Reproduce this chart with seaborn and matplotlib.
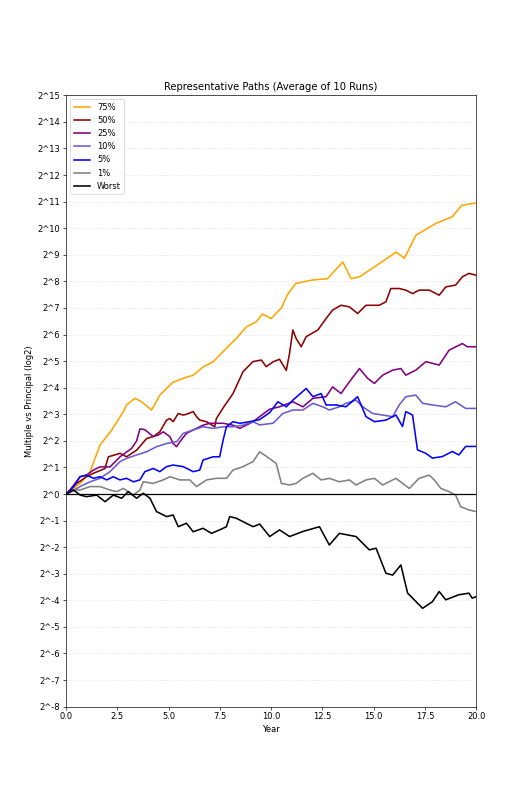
"""
Representative paths chart: multiple vs principal on a log2 scale.
"""
import numpy as np
import matplotlib
matplotlib.use('Agg')
import matplotlib.pyplot as plt
from matplotlib.ticker import FixedLocator, FuncFormatter, NullLocator
import seaborn as sns

# Path values (year, log2 of multiple)
orange_years = [0, 0.35, 0.68, 1.17, 1.65, 2.22, 2.79, 2.95, 3.36, 3.68, 4.17, 4.57, 5.2, 5.7,
                6.2, 6.7, 7.17, 7.65, 8.3, 8.8, 9.28, 9.57, 10.0, 10.5, 10.8, 11.2, 12.0, 12.75,
                13.5, 13.9, 14.3, 14.8, 15.3, 16.1, 16.5, 17.07, 18.04, 18.84, 19.3, 20.0]
orange_log2 = [0, 0.2, 0.4, 0.84, 1.84, 2.4, 3.1, 3.35, 3.6, 3.47, 3.16, 3.72, 4.2, 4.35,
               4.47, 4.79, 4.97, 5.35, 5.85, 6.29, 6.48, 6.77, 6.6, 7.0, 7.5, 7.92, 8.05, 8.1,
               8.73, 8.1, 8.17, 8.42, 8.68, 9.1, 8.87, 9.74, 10.18, 10.43, 10.86, 10.95]

darkred_years = [0, 0.52, 1.0, 1.33, 1.9, 2.06, 2.63, 2.95, 3.44, 3.93, 4.25, 4.57, 4.90, 5.06,
                 5.22, 5.47, 5.71, 5.87, 6.20, 6.36, 6.52, 6.85, 7.25, 7.33, 7.66, 8.14, 8.63,
                 9.11, 9.52, 9.76, 10.09, 10.41, 10.74, 10.90, 11.06, 11.22, 11.47, 11.71, 12.28,
                 12.68, 13.0, 13.41, 13.82, 14.22, 14.63, 15.27, 15.6, 15.84, 16.25, 16.57, 16.9,
                 17.22, 17.71, 18.2, 18.52, 19.0, 19.33, 19.65, 20.0]
darkred_log2 = [0, 0.4, 0.65, 0.78, 0.96, 1.4, 1.53, 1.40, 1.65, 2.09, 2.16, 2.34, 2.78, 2.84,
                2.72, 3.03, 2.97, 3.0, 3.10, 2.91, 2.78, 2.72, 2.53, 2.84, 3.24, 3.78, 4.60,
                4.98, 5.04, 4.79, 4.97, 5.07, 4.65, 5.29, 6.17, 5.85, 5.54, 5.92, 6.17,
                6.60, 6.92, 7.10, 7.04, 6.79, 7.10, 7.10, 7.23, 7.73, 7.73, 7.67, 7.54,
                7.67, 7.67, 7.48, 7.79, 7.86, 8.17, 8.30, 8.23]

purple_years = [0, 0.19, 0.68, 1.0, 1.33, 1.65, 2.14, 2.63, 3.2, 3.44, 3.60, 3.84, 4.25, 4.50,
                4.74, 5.06, 5.22, 5.39, 5.55, 5.87, 6.36, 6.68, 7.01, 7.66, 8.14, 8.47, 8.79,
                9.12, 9.44, 9.93, 10.41, 11.06, 11.55, 12.04, 12.68, 13.0, 13.41, 13.82, 14.31,
                14.71, 15.04, 15.44, 15.93, 16.33, 16.57, 17.06, 17.55, 18.2, 18.68, 19.33,
                19.57, 20.0]
purple_log2 = [0, 0.15, 0.65, 0.71, 0.90, 1.02, 1.02, 1.40, 1.72, 2.0, 2.45, 2.42, 2.16, 2.22,
               2.34, 2.16, 1.90, 1.78, 1.97, 2.28, 2.47, 2.59, 2.66, 2.66, 2.59, 2.47, 2.59,
               2.72, 2.91, 3.19, 3.28, 3.47, 3.28, 3.60, 3.66, 4.03, 3.78, 4.22, 4.72,
               4.35, 4.16, 4.47, 4.66, 4.72, 4.47, 4.66, 4.98, 4.85, 5.41, 5.66,
               5.54, 5.54]

slate_years = [0, 0.3, 0.68, 1.17, 1.65, 2.14, 2.63, 2.95, 3.44, 3.93, 4.41, 4.90, 5.39, 5.71,
               6.2, 6.68, 7.17, 7.66, 8.14, 8.63, 9.12, 9.44, 10.09, 10.57, 11.06, 11.55, 12.04,
               12.52, 12.84, 13.33, 13.65, 14.14, 14.47, 14.95, 15.44, 15.93, 16.25, 16.57,
               17.06, 17.39, 17.87, 18.52, 19.0, 19.49, 20.0]
slate_log2 = [0, 0.1, 0.28, 0.46, 0.59, 0.84, 1.22, 1.34, 1.47, 1.59, 1.78, 1.90, 1.97, 2.28,
              2.41, 2.53, 2.47, 2.53, 2.53, 2.59, 2.72, 2.6, 2.66, 3.03, 3.16, 3.16, 3.41,
              3.28, 3.16, 3.28, 3.41, 3.53, 3.28, 3.03, 2.97, 2.91, 3.35, 3.66,
              3.72, 3.41, 3.35, 3.28, 3.47, 3.22, 3.22]

blue_years = [0, 0.36, 0.68, 1.0, 1.33, 1.65, 1.98, 2.30, 2.63, 2.95, 3.28, 3.60, 3.84, 4.25,
              4.57, 4.90, 5.22, 5.71, 6.2, 6.52, 6.68, 7.17, 7.49, 7.66, 7.82, 8.14, 8.47,
              8.95, 9.44, 9.93, 10.33, 10.74, 11.06, 11.71, 12.04, 12.44, 12.68, 13.17, 13.65,
              14.22, 14.63, 15.04, 15.6, 16.09, 16.41, 16.57, 16.90, 17.14, 17.55, 17.87,
              18.36, 18.84, 19.16, 19.49, 20.0]
blue_log2 = [0, 0.28, 0.65, 0.71, 0.59, 0.65, 0.53, 0.65, 0.53, 0.59, 0.46, 0.53, 0.84, 0.96,
             0.84, 1.03, 1.09, 1.03, 0.84, 0.90, 1.28, 1.40, 1.40, 2.03, 2.53, 2.72, 2.66,
             2.72, 2.8, 3.06, 3.47, 3.28, 3.53, 3.97, 3.66, 3.78, 3.35, 3.35, 3.28,
             3.66, 2.91, 2.72, 2.78, 2.97, 2.54, 3.10, 2.97, 1.66, 1.53, 1.35,
             1.41, 1.60, 1.47, 1.79, 1.79]

gray_years = [0, 0.36, 0.68, 1.17, 1.65, 2.14, 2.47, 2.79, 3.28, 3.60, 3.76, 4.25, 4.74, 5.06,
              5.55, 6.03, 6.36, 6.85, 7.33, 7.82, 8.14, 8.63, 9.12, 9.44, 9.93, 10.25, 10.5,
              10.90, 11.22, 11.55, 12.04, 12.44, 12.84, 13.33, 13.82, 14.14, 14.63, 15.04,
              15.44, 16.09, 16.74, 17.22, 17.71, 17.96, 18.28, 18.68, 19.0, 19.25, 19.65, 20.0]
gray_log2 = [0, 0.15, 0.15, 0.28, 0.28, 0.15, 0.09, 0.21, -0.04, 0.15, 0.46, 0.40, 0.53, 0.65,
             0.53, 0.53, 0.28, 0.53, 0.59, 0.59, 0.90, 1.03, 1.22, 1.59, 1.33, 1.15, 0.40,
             0.34, 0.40, 0.59, 0.78, 0.53, 0.59, 0.46, 0.53, 0.34, 0.53, 0.59,
             0.34, 0.59, 0.21, 0.59, 0.71, 0.53, 0.21, 0.09, -0.04, -0.48, -0.60, -0.66]

worst_years = [0, 0.36, 0.68, 1.0, 1.49, 1.90, 2.30, 2.71, 3.03, 3.44, 3.76, 4.09, 4.41, 4.90,
               5.22, 5.47, 5.87, 6.2, 6.68, 7.09, 7.49, 7.82, 7.98, 8.30, 8.63, 9.12, 9.44,
               9.93, 10.41, 10.90, 11.55, 12.36, 12.84, 13.33, 14.14, 14.79, 15.12, 15.6,
               15.93, 16.33, 16.66, 17.39, 17.87, 18.2, 18.52, 19.16, 19.65, 19.81, 20.0]
worst_log2 = [0, 0.15, -0.04, -0.10, -0.04, -0.29, -0.04, -0.16, 0.09, -0.16, 0.03, -0.16,
              -0.66, -0.85, -0.79, -1.23, -1.10, -1.42, -1.29, -1.48, -1.35, -1.23, -0.85,
              -0.91, -1.04, -1.23, -1.13, -1.6, -1.35, -1.60, -1.41, -1.23, -1.92, -1.48,
              -1.60, -2.10, -2.04, -2.98, -3.05, -2.67, -3.73, -4.30, -4.05, -3.67, -3.98,
              -3.79, -3.73, -3.92, -3.86]

labels = ['75%', '50%', '25%', '10%', '5%', '1%', 'Worst']
colors = ['orange', 'darkred', 'purple', 'slateblue', 'blue', 'gray', 'black']
series = [
    (orange_years, orange_log2),
    (darkred_years, darkred_log2),
    (purple_years, purple_log2),
    (slate_years, slate_log2),
    (blue_years, blue_log2),
    (gray_years, gray_log2),
    (worst_years, worst_log2),
]

y_exponents = list(range(-8, 16))

fig, ax = plt.subplots(figsize=(529 / 60, 794 / 60), dpi=60)

for (years, exps), label, color in zip(series, labels, colors):
    sns.lineplot(x=years, y=np.power(2.0, exps), color=color, label=label,
                 linewidth=1.9, ax=ax)

# Principal line
ax.axhline(1.0, color='black', linewidth=1.5)

ax.set_yscale('log', base=2)
ax.set_ylim(2.0 ** -8, 2.0 ** 15)
ax.set_xlim(0, 20)
ax.yaxis.set_major_locator(FixedLocator([2.0 ** k for k in y_exponents]))
ax.yaxis.set_minor_locator(NullLocator())
ax.yaxis.set_major_formatter(FuncFormatter(lambda v, pos: f"2^{int(round(np.log2(v)))}"))
ax.grid(axis='y', linestyle=':', color='lightgray', linewidth=0.8)

ax.set_title('Representative Paths (Average of 10 Runs)')
ax.set_xlabel('Year')
ax.set_ylabel('Multiple vs Principal (log2)')
ax.legend(loc='upper left')

plt.savefig('out.png', dpi=60)
plt.close()
